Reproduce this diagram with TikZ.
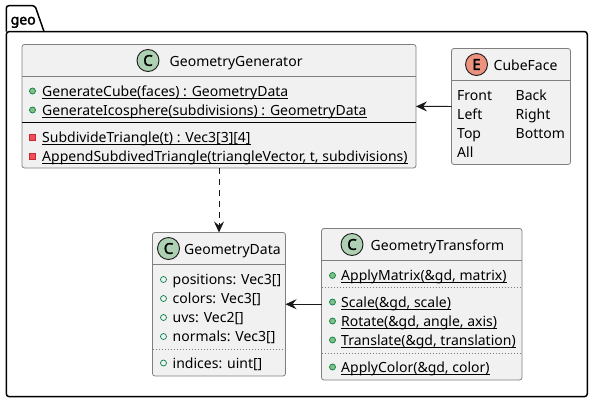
\documentclass[tikz,border=0pt]{standalone}
\usepackage{fontspec}
\setmainfont{Noto Sans}
\newfontfamily\heavyface[FakeBold=2.2]{Noto Sans}
\usetikzlibrary{arrows.meta}
\definecolor{boxfill}{HTML}{F1F1F1}
\definecolor{boxline}{HTML}{7F7F7F}
\definecolor{classspot}{HTML}{ADD1B2}
\definecolor{enumspot}{HTML}{EB937F}
\definecolor{pubfill}{HTML}{84BE84}
\definecolor{publine}{HTML}{038048}
\definecolor{privfill}{HTML}{F24D5C}
\definecolor{privline}{HTML}{C82930}
\newcommand{\ulmember}[1]{\sbox0{#1}\rlap{\rule[-2.6pt]{\wd0}{0.8pt}}\box0}
\tikzset{
  classbox/.style={draw=boxline, fill=boxfill, line width=0.8pt, rounded corners=2.5pt, inner sep=0pt, outer sep=0pt},
  spot/.style={draw=black!90, circle, line width=0.9pt, minimum size=22pt, inner sep=0pt, font=\fontsize{15}{16}\heavyface},
  boxtitle/.style={anchor=base west, inner sep=0pt, font=\fontsize{14}{16}\selectfont},
  membertext/.style={anchor=base west, inner sep=0pt, font=\fontsize{14}{16}\selectfont},
  pubdot/.style={draw=publine, fill=pubfill, circle, line width=0.7pt, minimum size=6pt, inner sep=0pt},
  fielddot/.style={draw=publine, fill=boxfill, circle, line width=0.7pt, minimum size=6pt, inner sep=0pt},
  privdot/.style={draw=privline, fill=privfill, rectangle, line width=0.7pt, minimum size=6pt, inner sep=0pt},
  headline/.style={draw=boxline, line width=0.8pt},
  dotline/.style={draw=boxline, line width=0.7pt, dash pattern=on 1.5pt off 1.5pt},
  relation/.style={draw=black!90, line width=0.9pt, -{Stealth[length=11pt, width=10pt, inset=4pt]}},
}
\begin{document}
\begin{tikzpicture}[x=1pt, y=-1pt]
  \useasboundingbox (0,0) rectangle (593,402);
  % package
  \draw[line width=1.5pt, fill=white, rounded corners=2.5pt] (6.3,31.5) -- (6.3,5.7) -- (35,5.7) -- (44,31.5);
  \draw[line width=1.5pt, rounded corners=3pt] (6.3,31.5) -- (587.3,31.5) -- (587.3,396.7) -- (6.3,396.7) -- cycle;
  \node[anchor=base west, inner sep=0pt, font=\fontsize{14}{16}\heavyface] (geolabel) at (10.5,24.5) {geo};

  % boxes
  \node[classbox, minimum width=394pt, minimum height=123.5pt] (generator) at (219,106.25) {};
  \node[classbox, minimum width=119pt, minimum height=116pt] (cubeface) at (511,106.5) {};
  \node[classbox, minimum width=133pt, minimum height=143.5pt] (data) at (219,304.25) {};
  \node[classbox, minimum width=200.5pt, minimum height=151.5pt] (transform) at (421.75,304.25) {};

  % title rows
  \draw[headline] (generator.west |- 0,76) -- (generator.east |- 0,76);
  \draw[headline] (cubeface.west |- 0,80) -- (cubeface.east |- 0,80);
  \draw[headline] (data.west |- 0,264) -- (data.east |- 0,264);
  \draw[headline] (transform.west |- 0,260) -- (transform.east |- 0,260);
  \draw[draw=black, line width=0.8pt] (generator.west |- 0,122.5) -- (generator.east |- 0,122.5);
  \draw[dotline] (data.west |- 0,349) -- (data.east |- 0,349);
  \draw[dotline] (transform.west |- 0,287.5) -- (transform.east |- 0,287.5);
  \draw[dotline] (transform.west |- 0,353.5) -- (transform.east |- 0,353.5);

  \node[spot, fill=classspot] (genspot) at (148,60.5) {C};
  \node[boxtitle] (gentitle) at (169.5,66) {GeometryGenerator};
  \node[spot, fill=enumspot] (facespot) at (476.5,64.5) {E};
  \node[boxtitle] (facetitle) at (493.5,70) {CubeFace};
  \node[spot, fill=classspot] (dataspot) at (168.5,248.5) {C};
  \node[boxtitle] (datatitle) at (184,254) {GeometryData};
  \node[spot, fill=classspot] (transpot) at (352,244.5) {C};
  \node[boxtitle] (trantitle) at (370.5,250) {GeometryTransform};

  % members
  \foreach \y/\lbl in {96/{GenerateCube(faces) : GeometryData}, 115/{GenerateIcosphere(subdivisions) : GeometryData}} {
    \node[pubdot] (gendot\y) at (32.5,\y-5) {};
    \node[membertext] (genrow\y) at (42,\y) {\ulmember{\lbl}};
  }
  \foreach \y/\lbl in {142/{SubdivideTriangle(t) : Vec3[3][4]}, 161/{AppendSubdivedTriangle(triangleVector, t, subdivisions)}} {
    \node[privdot] (gendot\y) at (32.5,\y-5) {};
    \node[membertext] (genrow\y) at (42,\y) {\ulmember{\lbl}};
  }
  \foreach \y/\a/\b in {100/Front/Back, 119/Left/Right, 138/Top/Bottom} {
    \node[membertext] (facea\y) at (457,\y) {\a};
    \node[membertext] (faceb\y) at (515.5,\y) {\b};
  }
  \node[membertext] (faceall) at (457,157) {All};
  \foreach \y/\lbl in {284.5/{positions: Vec3[]}, 303.5/{colors: Vec3[]}, 322.5/{uvs: Vec2[]}, 341.5/{normals: Vec3[]}, 368/{indices: uint[]}} {
    \node[fielddot] (datadot\y) at (163.5,\y-5) {};
    \node[membertext] (datarow\y) at (172.5,\y) {\lbl};
  }
  \foreach \y/\lbl in {280.5/{ApplyMatrix(\&gd, matrix)}, 307/{Scale(\&gd, scale)}, 326/{Rotate(\&gd, angle, axis)}, 345/{Translate(\&gd, translation)}, 372/{ApplyColor(\&gd, color)}} {
    \node[pubdot] (trandot\y) at (332.5,\y-5) {};
    \node[membertext] (tranrow\y) at (341,\y) {\ulmember{\lbl}};
  }

  % relations
  \draw[relation] (cubeface) -- (generator);
  \draw[relation, dash pattern=on 6pt off 5pt] (generator) -- (data);
  \draw[relation] (transform) -- (data);
\end{tikzpicture}
\end{document}
